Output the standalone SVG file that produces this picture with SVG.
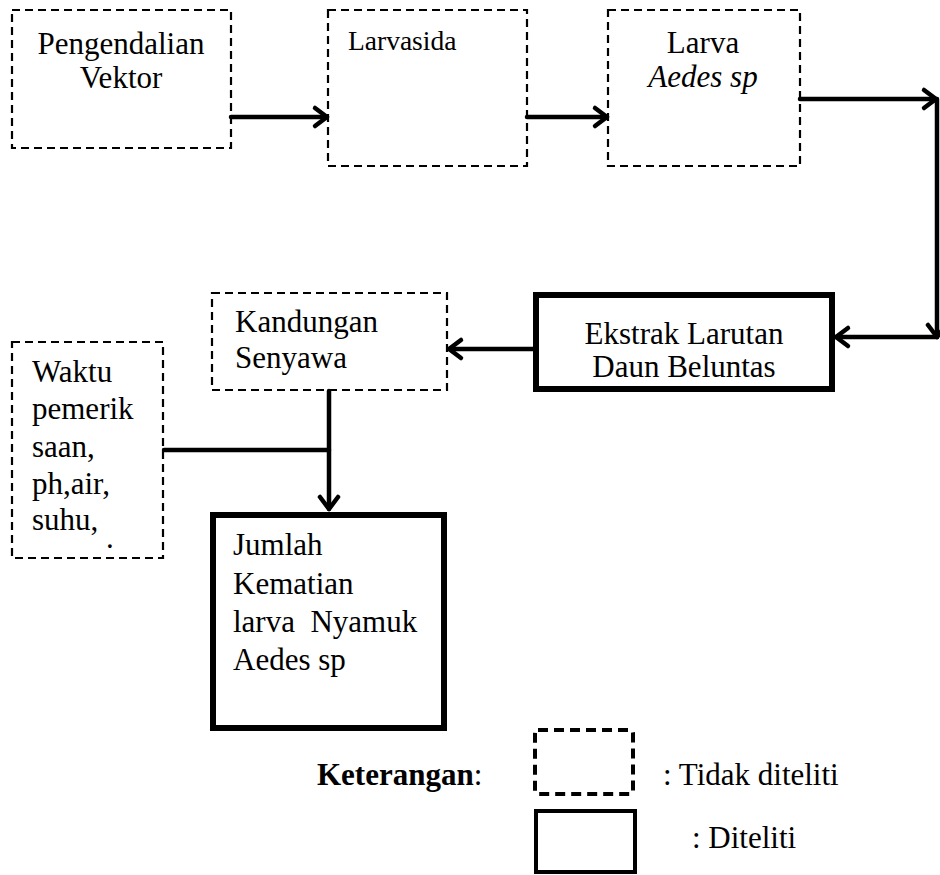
<svg xmlns="http://www.w3.org/2000/svg" width="940" height="875" viewBox="0 0 940 875">
<defs>
<style>
text{font-family:"Liberation Serif","Times New Roman",serif;font-size:31px;fill:#000}
.d{fill:none;stroke:#000;stroke-width:2.2;stroke-dasharray:8 5}
.s{fill:none;stroke:#000;stroke-width:6}
.c{fill:none;stroke:#000;stroke-width:4.5;stroke-linecap:round}
</style>
<marker id="ah" markerUnits="userSpaceOnUse" markerWidth="30" markerHeight="30" viewBox="-20 -15 30 30" refX="0" refY="0" orient="auto">
<path d="M-12,-9 L0,0 L-12,9" fill="none" stroke="#000" stroke-width="4.5" stroke-linecap="round" stroke-linejoin="round"/>
</marker>
</defs>
<rect width="940" height="875" fill="#fff"/>
<g id="connectors">
<line class="c" x1="231" y1="117" x2="327" y2="117" marker-end="url(#ah)"/>
<line class="c" x1="527" y1="117" x2="607" y2="117" marker-end="url(#ah)"/>
<line class="c" x1="800" y1="99" x2="936" y2="99" marker-end="url(#ah)"/>
<line class="c" x1="937" y1="99" x2="937" y2="337" marker-end="url(#ah)"/>
<line class="c" x1="937" y1="337" x2="836" y2="337" marker-end="url(#ah)"/>
<line class="c" x1="533" y1="349" x2="449" y2="349" marker-end="url(#ah)"/>
<line class="c" x1="329" y1="391" x2="329" y2="509" marker-end="url(#ah)"/>
<line class="c" x1="164" y1="450" x2="329" y2="450"/>
</g>
<g id="n1">
<rect class="d" x="12" y="10" width="219" height="138"/>
<text x="121" y="54" text-anchor="middle">Pengendalian</text>
<text x="121" y="88" text-anchor="middle">Vektor</text>
</g>
<g id="n2">
<rect class="d" x="328" y="10" width="199" height="156"/>
<text x="348" y="50" style="font-size:27.5px">Larvasida</text>
</g>
<g id="n3">
<rect class="d" x="608" y="10" width="192" height="156"/>
<text x="703" y="53" text-anchor="middle">Larva</text>
<text x="703" y="87" text-anchor="middle" font-style="italic">Aedes sp</text>
</g>
<g id="n4">
<rect class="s" x="536" y="295" width="296" height="94"/>
<text x="684" y="344" text-anchor="middle">Ekstrak Larutan</text>
<text x="684" y="377" text-anchor="middle">Daun Beluntas</text>
</g>
<g id="n5">
<rect class="d" x="212" y="293" width="235" height="97"/>
<text x="235" y="332">Kandungan</text>
<text x="235" y="368">Senyawa</text>
</g>
<g id="n6">
<rect class="d" x="12" y="342" width="151" height="216"/>
<text x="32" y="382">Waktu</text>
<text x="32" y="419">pemerik</text>
<text x="32" y="457">saan,</text>
<text x="32" y="494">ph,air,</text>
<text x="32" y="530">suhu,</text>
<text x="106" y="548">.</text>
</g>
<g id="n7">
<rect class="s" x="213" y="515" width="231" height="213"/>
<text x="233" y="555">Jumlah</text>
<text x="233" y="594">Kematian</text>
<text x="233" y="632" xml:space="preserve">larva  Nyamuk</text>
<text x="233" y="670">Aedes sp</text>
</g>
<g id="legend">
<text x="317" y="785" font-weight="bold">Keterangan<tspan font-weight="normal">:</tspan></text>
<rect x="535" y="730" width="98" height="64" rx="3" fill="none" stroke="#000" stroke-width="4" stroke-dasharray="10 6"/>
<text x="663" y="785">: Tidak diteliti</text>
<rect x="536" y="811" width="99" height="61" fill="none" stroke="#000" stroke-width="4"/>
<text x="692" y="848">: Diteliti</text>
</g>
</svg>
